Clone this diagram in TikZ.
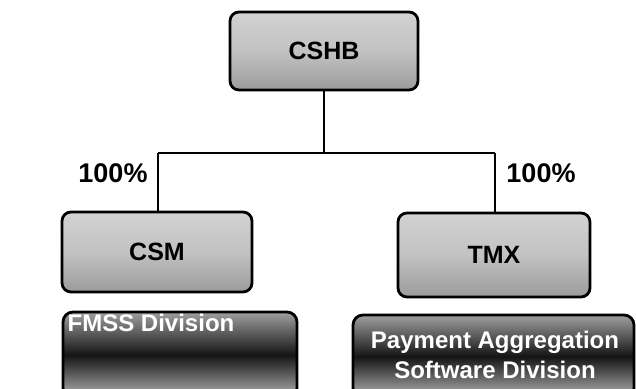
\documentclass[tikz,border=0pt]{standalone}
\usepackage{fontspec}
\setmainfont{Liberation Sans}
\begin{document}
\begin{tikzpicture}[x=1pt,y=-1pt,
  entity/.style={draw=black, line width=2.8pt, rounded corners=9pt,
    top color=gray!35, bottom color=gray!78, middle color=gray!48,
    font=\bfseries\fontsize{25}{28}\selectfont, inner sep=0pt},
  divbox/.style={draw=black, line width=2.8pt, rounded corners=10pt,
    top color=gray!75, bottom color=gray!58, middle color=black!92},
  divtext/.style={text=white, font=\bfseries\fontsize{24}{30}\selectfont,
    align=center, inner sep=0pt},
  share/.style={font=\bfseries\fontsize{27}{30}\selectfont, inner sep=0pt},
  link/.style={draw=black, line width=1.6pt}
]
\useasboundingbox (0,0) rectangle (636,388);
\clip (0,0) rectangle (636,388);

% holding company and its two subsidiaries
\node[entity, minimum width=188pt, minimum height=78pt] (cshb) at (324,51) {CSHB};
\node[entity, minimum width=190pt, minimum height=80pt] (csm) at (157,252) {CSM};
\node[entity, minimum width=192pt, minimum height=84pt] (tmx) at (494,255) {TMX};

% ownership tree
\coordinate (split) at (324,153);
\coordinate (lcorner) at (158,153);
\coordinate (rcorner) at (495,153);
\draw[link] (cshb.south) -- (split);
\draw[link] (lcorner) -- (rcorner);
\draw[link] (lcorner) -- (lcorner |- csm.north);
\draw[link] (rcorner) -- (rcorner |- tmx.north);

\node[share] (pctl) at (113,173) {100\%};
\node[share] (pctr) at (541,173) {100\%};

% divisions
\path[divbox] (63,312) rectangle (297,398);
\node[divtext] (fmss) at (151,323) {FMSS Division};
\path[divbox] (353,315) rectangle (634,398);
\node[divtext] (pas) at (495,355) {Payment Aggregation\\Software Division};
\end{tikzpicture}
\end{document}
